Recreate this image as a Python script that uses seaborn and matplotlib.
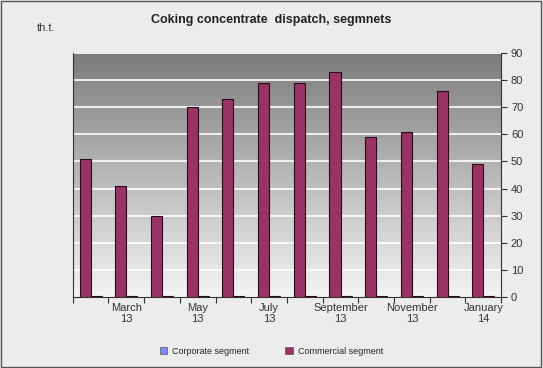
import numpy as np
import pandas as pd
import seaborn as sns
import matplotlib.pyplot as plt

# Data (thousand tonnes)
months = ["Feb 13", "Mar 13", "Apr 13", "May 13", "Jun 13", "Jul 13",
          "Aug 13", "Sep 13", "Oct 13", "Nov 13", "Dec 13", "Jan 14"]
commercial = [51, 41, 30, 70, 73, 79, 79, 83, 59, 61, 76, 49]
corporate = [0.4, 0.4, 0.4, 0.4, 0.4, 0.4, 0.4, 0.4, 0.4, 0.4, 0.4, 0.4]
tick_labels = ["", "March\n13", "", "May\n13", "", "July\n13", "",
               "September\n13", "", "November\n13", "", "January\n14"]

df = pd.DataFrame({
    "month": months * 2,
    "value": commercial + corporate,
    "segment": ["Commercial segment"] * len(months) + ["Corporate segment"] * len(months),
})

sns.set_style("white")
plt.rcParams['font.family'] = ['Liberation Sans', 'DejaVu Sans']

fig = plt.figure(figsize=(5.43, 3.68), dpi=100, facecolor="#ececec")
ax = fig.add_axes([0.134, 0.193, 0.789, 0.663])

palette = {"Commercial segment": "#993366", "Corporate segment": "#7f8cff"}
sns.barplot(data=df, x="month", y="value", hue="segment",
            hue_order=["Commercial segment", "Corporate segment"],
            palette=palette, width=0.62, edgecolor="#2a0a1a", linewidth=0.8,
            saturation=1, ax=ax, legend=False, zorder=3)

# gradient back wall, dark at top to light at bottom
grad = np.linspace(0, 1, 256).reshape(-1, 1)
ax.imshow(grad, extent=[-0.5, 11.5, 0, 90], aspect="auto",
          cmap=sns.blend_palette(["#f4f4f4", "#7c7c7c"], as_cmap=True),
          origin="lower", zorder=0)

ax.set_xlim(-0.5, 11.5)
ax.set_ylim(0, 90)
ax.set_yticks(range(0, 91, 10))
for y in range(10, 91, 10):
    ax.axhline(y, color="white", lw=1.2, zorder=1)

ax.yaxis.tick_right()
ax.tick_params(axis="y", right=True, length=4, width=0.8, color="#333333",
               labelsize=8, labelcolor="#333333", pad=3)
ax.set_xticks(range(len(months)))
ax.set_xticklabels(tick_labels, fontsize=8, color="#333333")
ax.tick_params(axis="x", length=0, pad=4)
ax.set_xticks(np.arange(-0.5, 12, 1), minor=True)
ax.tick_params(axis="x", which="minor", bottom=True, length=4, width=0.8, color="#333333")

for side in ["top"]:
    ax.spines[side].set_visible(False)
ax.spines["left"].set_color("#333333")
ax.spines["right"].set_color("#333333")
ax.spines["bottom"].set_color("#333333")
ax.set_xlabel("")
ax.set_ylabel("")

fig.text(0.5, 0.945, "Coking concentrate  dispatch, segmnets", ha="center",
         va="center", fontsize=9, fontweight="bold", color="#222222")
fig.text(0.068, 0.925, "th.t.", ha="left", va="center", fontsize=8, color="#333333")

# legend: corporate first, as in the reference
from matplotlib.patches import Patch
handles = [Patch(facecolor=palette["Corporate segment"], edgecolor="#555555", lw=0.5),
           Patch(facecolor=palette["Commercial segment"], edgecolor="#555555", lw=0.5)]
fig.legend(handles, ["Corporate segment", "Commercial segment"], loc="center",
           bbox_to_anchor=(0.5, 0.045), ncol=2, frameon=False, fontsize=6.5,
           handlelength=0.8, handleheight=0.8, columnspacing=4, handletextpad=0.6)

# outer border
fig.patches.append(plt.Rectangle((0.002, 0.003), 0.995, 0.994, transform=fig.transFigure,
                                 fill=False, edgecolor="#555555", lw=1))

fig.savefig("out.png", dpi=100, facecolor=fig.get_facecolor())
